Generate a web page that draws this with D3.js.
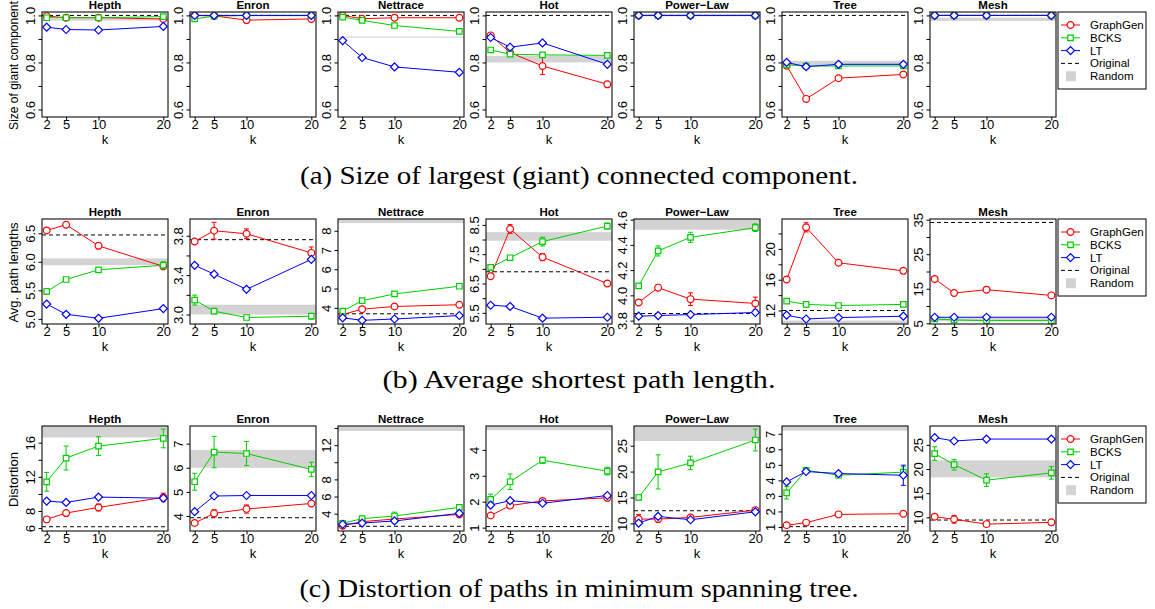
<!DOCTYPE html>
<html>
<head>
<meta charset="utf-8">
<script src="https://cdn.jsdelivr.net/npm/d3@7"></script>
<style>
  body { margin: 0; background: #fff; }
  text { font-family: 'Liberation Sans', Arial, Helvetica, sans-serif; }
</style>
</head>
<body>
<svg id="chart" width="1155" height="609"></svg>
<script>
const K = [2, 5, 10, 20]
const DATASETS = ['Hepth', 'Enron', 'Nettrace', 'Hot', 'Power\u2212Law', 'Tree', 'Mesh']
const SERIES = ['GraphGen', 'BCKS', 'LT']

// (a) size of giant component
const giantGraphGen = [[0.997, 0.99, 0.99, 0.985], [1.0, 0.998, 0.98, 0.985], [1.0, 0.986, 0.99, 0.99],
  [0.915, 0.842, 0.785, 0.707], [1, 1, 1, 1], [0.786, 0.645, 0.733, 0.749], [1, 1, 1, 1]]
const giantGraphGenErr = [[0.005, 0, 0, 0.005], [0, 0, 0.006, 0.01], [0, 0, 0, 0],
  [0.012, 0.006, 0.036, 0.01], [0, 0, 0, 0], [0.012, 0.01, 0, 0], [0, 0, 0, 0]]
const giantBCKS = [[0.99, 0.99, 0.99, 0.995], [0.985, 0.997, 1.0, 1.0], [0.993, 0.979, 0.957, 0.932],
  [0.853, 0.835, 0.832, 0.83], [1, 1, 1, 1], [0.79, 0.785, 0.785, 0.785], [1, 1, 1, 1]]
const giantLT = [[0.95, 0.94, 0.938, 0.953], [1, 1, 1, 1], [0.893, 0.821, 0.781, 0.758],
  [0.906, 0.865, 0.883, 0.792], [1, 1, 1, 1], [0.80, 0.782, 0.792, 0.792], [1, 1, 1, 1]]
const giantOriginal = [1, 1, 1, 1, 1, 1, 1]
const giantRandom = [[0.978, 0.985], [0.996, 1.0], [0.905, 0.91], [0.80, 0.828], [0.997, 1.0], [0.789, 0.807], [0.977, 0.99]]
const giantDomain = Array(7).fill([0.568, 1.0145])
const giantTicks = Array(7).fill([0.6, 0.7, 0.8, 0.9, 1.0])
const giantTickLabels = Array(7).fill([0.6, 0.8, 1.0])

// (b) average shortest path length
const pathGraphGen = [[6.55, 6.65, 6.28, 5.92], [3.742, 3.851, 3.82, 3.626], [3.65, 3.93, 4.07, 4.16],
  [6.75, 8.36, 7.4, 6.5], [3.944, 4.061, 3.97, 3.936], [16.02, 22.8, 18.2, 17.15], [17.85, 13.76, 14.74, 13.08]]
const pathGraphGenErr = [[0.03, 0.04, 0.04, 0.04], [0.02, 0.085, 0.05, 0.06], [0, 0, 0, 0],
  [0.05, 0.15, 0.12, 0.1], [0.005, 0.02, 0.05, 0.05], [0.3, 0.6, 0.2, 0.2], [0, 0, 0, 0]]
const pathBCKS = [[5.48, 5.69, 5.86, 5.94], [3.147, 3.034, 2.97, 2.983], [3.83, 4.37, 4.72, 5.12],
  [7.05, 7.38, 7.93, 8.46], [4.075, 4.352, 4.46, 4.536], [13.22, 12.79, 12.65, 12.79], [6.27, 5.97, 5.78, 5.78]]
const pathBCKSErr = [[0.05, 0.02, 0.02, 0.06], [0.05, 0.02, 0.01, 0.03], [0, 0, 0, 0],
  [0.1, 0.05, 0.15, 0.1], [0.015, 0.04, 0.04, 0.03], [0, 0, 0, 0], [0, 0, 0, 0]]
const pathLT = [[5.26, 5.08, 5.01, 5.18], [3.5, 3.41, 3.256, 3.56], [3.48, 3.35, 3.42, 3.6],
  [5.76, 5.72, 5.32, 5.35], [3.835, 3.84, 3.848, 3.864], [11.39, 10.9, 11.08, 11.26], [6.75, 6.75, 6.75, 6.75]]
const pathOriginal = [6.47, 3.76, 3.69, 6.9, 3.856, 12.0, 34.2]
const pathRandom = [[5.94, 6.06], [3.0, 3.10], [8.4, 8.8], [7.96, 8.25], [4.52, 4.62], [10.0, 10.7], [5.6, 6.5]]
const pathDomain = [[4.91, 6.75], [2.904, 3.97], [3.16, 8.61], [5.12, 8.70], [3.773, 4.605], [10.25, 23.88], [4.8, 35.2]]
const pathTicks = [[5.0, 5.5, 6.0, 6.5], [3.0, 3.2, 3.4, 3.6, 3.8], [4, 5, 6, 7, 8], [5.5, 6, 6.5, 7, 7.5, 8, 8.5],
  [3.8, 4.0, 4.2, 4.4, 4.6], [12, 14, 16, 18, 20, 22], [5, 10, 15, 20, 25, 30, 35]]
const pathTickLabels = [[5.0, 5.5, 6.0, 6.5], [3.0, 3.4, 3.8], [4, 5, 6, 7, 8], [5.5, 6.5, 7.5, 8.5],
  [3.8, 4.0, 4.2, 4.4, 4.6], [12, 16, 20], [5, 15, 25, 35]]

// (c) distortion of paths in MST
const distGraphGen = [[7.02, 7.76, 8.42, 9.59], [3.71, 4.11, 4.29, 4.52], [2.6, 3.07, 3.38, 3.92],
  [1.47, 1.85, 2.03, 2.15], [10.83, 10.83, 11.15, 12.56], [1.11, 1.28, 1.81, 1.85], [10.14, 9.6, 8.6, 8.97]]
const distGraphGenErr = [[0.3, 0.3, 0.4, 0.5], [0.1, 0.15, 0.17, 0.08], [0, 0, 0, 0],
  [0.03, 0.1, 0.05, 0.05], [0.9, 0.3, 0.3, 0.3], [0.03, 0.05, 0.05, 0.08], [0.4, 0.8, 0.3, 0.5]]
const distBCKS = [[11.42, 14.2, 15.6, 16.5], [5.42, 6.65, 6.59, 5.93], [2.88, 3.42, 3.73, 4.74],
  [2.09, 2.77, 3.6, 3.18], [15.0, 19.94, 21.67, 26.1], [3.2, 4.65, 4.33, 4.53], [23.2, 20.9, 17.7, 19.2]]
const distBCKSErr = [[1.1, 1.4, 1.1, 1.1], [0.35, 0.65, 0.5, 0.3], [0.1, 0.1, 0.45, 0.15],
  [0.2, 0.3, 0.12, 0.15], [0.5, 3.3, 1.3, 2.1], [0.4, 0.1, 0.1, 0.35], [1.4, 1.1, 1.3, 1.3]]
const distLT = [[9.16, 9.0, 9.63, 9.5], [4.18, 4.83, 4.85, 4.85], [2.76, 2.91, 3.15, 4.04],
  [1.87, 2.04, 1.94, 2.24], [10.06, 11.35, 10.7, 12.24], [3.9, 4.57, 4.44, 4.33], [26.5, 25.8, 26.2, 26.2]]
const distLTErr = [[0, 0, 0, 0], [0, 0, 0, 0], [0, 0, 0, 0], [0, 0, 0, 0], [0, 0, 0, 0], [0, 0, 0.1, 0.65], [0, 0, 0, 0]]
const distOriginal = [6.16, 3.93, 2.53, 1.04, 12.44, 1.02, 9.45]
const distRandom = [[16.6, 18.5], [6.0, 6.74], [13.65, 15], [4.76, 5.2], [25.9, 30], [7.2, 8], [18.26, 21.8]]
const distDomain = [[5.66, 17.95], [3.38, 7.73], [1.98, 14.23], [0.87, 4.92], [8.53, 28.8], [0.74, 7.5], [7.18, 28.9]]
const distTicks = [[6, 8, 10, 12, 14, 16], [4, 5, 6, 7], [4, 6, 8, 10, 12, 14], [1, 2, 3, 4],
  [10, 15, 20, 25], [1, 2, 3, 4, 5, 6, 7], [10, 15, 20, 25]]
const distTickLabels = [[6, 8, 12, 16], [4, 5, 6, 7], [4, 6, 8, 12], [1, 2, 3, 4],
  [10, 15, 20, 25], [1, 2, 3, 4, 5, 6, 7], [10, 15, 20, 25]]

const rows = [
  { ylabel: 'Size of giant component', ylabelSize: 12, caption: '(a) Size of largest (giant) connected component.',
    series: [giantGraphGen, giantBCKS, giantLT], errs: [giantGraphGenErr, null, null],
    original: giantOriginal, random: giantRandom, domain: giantDomain, ticks: giantTicks, labels: giantTickLabels },
  { ylabel: 'Avg. path lengths', ylabelSize: 13, caption: '(b) Average shortest path length.',
    series: [pathGraphGen, pathBCKS, pathLT], errs: [pathGraphGenErr, pathBCKSErr, null],
    original: pathOriginal, random: pathRandom, domain: pathDomain, ticks: pathTicks, labels: pathTickLabels },
  { ylabel: 'Distortion', ylabelSize: 13, caption: '(c) Distortion of paths in minimum spanning tree.',
    series: [distGraphGen, distBCKS, distLT], errs: [distGraphGenErr, distBCKSErr, distLTErr],
    original: distOriginal, random: distRandom, domain: distDomain, ticks: distTicks, labels: distTickLabels }
]

const STYLE = [
  { color: '#FF0000', type: d3.symbolCircle, size: 36, rot: 0 },
  { color: '#00CD00', type: d3.symbolSquare, size: 30, rot: 0 },
  { color: '#0000FF', type: d3.symbolSquare, size: 32, rot: 45 }
]
const RANDOM_FILL = '#D3D3D3'

const W = 1155, H = 609
const PW = 126, PH = 105
const X0 = 42, DX = 148
const ROW_TOP = [12, 219, 426]
const CAPTION_Y = [184, 388, 597]
const CAPTION_W = [558, 393, 559]

const svg = d3.select('#chart')
svg.append('rect').attr('width', W).attr('height', H).attr('fill', '#fff')
const defs = svg.append('defs')

const x = d3.scaleLinear().domain([2 - 0.72, 20 + 0.72]).range([0, PW])

function marker(sel, st) {
  sel.attr('d', d3.symbol().type(st.type).size(st.size)())
    .attr('fill', '#fff')
    .attr('stroke', st.color)
    .attr('stroke-width', 1.2)
}

rows.forEach((row, r) => {
  const top = ROW_TOP[r]

  DATASETS.forEach((name, i) => {
    const left = X0 + i * DX
    const y = d3.scaleLinear().domain(row.domain[i]).range([PH, 0])
    const g = svg.append('g').attr('transform', `translate(${left},${top})`)
    const clipId = `clip-${r}-${i}`
    defs.append('clipPath').attr('id', clipId)
      .append('rect').attr('width', PW).attr('height', PH)
    const plot = g.append('g').attr('clip-path', `url(#${clipId})`)

    // random band
    const [lo, hi] = row.random[i]
    plot.append('rect')
      .attr('x', 0).attr('width', PW)
      .attr('y', y(hi)).attr('height', Math.max(1, y(lo) - y(hi)))
      .attr('fill', RANDOM_FILL)

    // original
    plot.append('line')
      .attr('x1', 0).attr('x2', PW)
      .attr('y1', y(row.original[i])).attr('y2', y(row.original[i]))
      .attr('stroke', '#000').attr('stroke-width', 1).attr('stroke-dasharray', '4,3')

    row.series.forEach((ser, s) => {
      const st = STYLE[s]
      const vals = ser[i]
      const errs = row.errs[s] ? row.errs[s][i] : [0, 0, 0, 0]
      const pts = K.map((k, j) => ({ k, v: vals[j], e: errs[j] }))
      const sg = plot.append('g')

      // error bars
      pts.filter(d => d.e > 0).forEach(d => {
        const cx = x(d.k)
        const eb = sg.append('g').attr('stroke', st.color).attr('stroke-width', 1)
        eb.append('line').attr('x1', cx).attr('x2', cx).attr('y1', y(d.v - d.e)).attr('y2', y(d.v + d.e))
        eb.append('line').attr('x1', cx - 2.5).attr('x2', cx + 2.5).attr('y1', y(d.v - d.e)).attr('y2', y(d.v - d.e))
        eb.append('line').attr('x1', cx - 2.5).attr('x2', cx + 2.5).attr('y1', y(d.v + d.e)).attr('y2', y(d.v + d.e))
      })

      sg.append('path').datum(pts)
        .attr('fill', 'none').attr('stroke', st.color).attr('stroke-width', 1)
        .attr('d', d3.line().x(d => x(d.k)).y(d => y(d.v)))

      sg.selectAll('path.mk').data(pts).join('path')
        .attr('class', 'mk')
        .attr('transform', d => `translate(${x(d.k)},${y(d.v)}) rotate(${st.rot})`)
        .call(marker, st)
    })

    // box
    g.append('rect').attr('width', PW).attr('height', PH)
      .attr('fill', 'none').attr('stroke', '#222').attr('stroke-width', 1.2)

    // x axis
    const xa = g.append('g').attr('transform', `translate(0,${PH})`)
      .call(d3.axisBottom(x).tickValues(K).tickSize(3.5).tickSizeOuter(0))
    xa.select('.domain').remove()
    xa.selectAll('line').attr('stroke', '#000')
    xa.selectAll('text').attr('y', 3).attr('dy', '0.71em')
      .attr('font-size', '13px').attr('fill', '#000').attr('font-family', "'Liberation Sans', Arial, sans-serif")

    // y axis
    const ticks = row.ticks[i]
    const labels = row.labels[i]
    const dec = ticks.some(t => !Number.isInteger(t)) ? 1 : 0
    const fmt = d3.format(`.${dec}f`)
    const ya = g.append('g')
      .call(d3.axisLeft(y).tickValues(ticks).tickSize(3.5).tickSizeOuter(0)
        .tickFormat(t => labels.some(l => Math.abs(l - t) < 1e-9) ? fmt(t) : ''))
    ya.select('.domain').remove()
    ya.selectAll('line').attr('stroke', '#000')
    ya.selectAll('text')
      .attr('transform', 'rotate(-90)')
      .attr('x', 0).attr('y', -7).attr('dy', 0)
      .attr('text-anchor', 'middle')
      .attr('font-size', '13px').attr('fill', '#000').attr('font-family', "'Liberation Sans', Arial, sans-serif")

    // title
    g.append('text').attr('x', PW / 2).attr('y', -3)
      .attr('text-anchor', 'middle').attr('font-size', '11.5px').attr('font-weight', 'bold')
      .text(name)

    // k
    g.append('text').attr('x', PW / 2).attr('y', PH + 27)
      .attr('text-anchor', 'middle').attr('font-size', '13px')
      .text('k')

    if (i === 0) {
      svg.append('text')
        .attr('transform', `translate(17.5,${top + PH / 2 + 1}) rotate(-90)`)
        .attr('text-anchor', 'middle').attr('font-size', `${row.ylabelSize}px`)
        .text(row.ylabel)
    }
  })

  // legend
  const lg = svg.append('g').attr('transform', `translate(1058,${top})`)
  lg.append('rect').attr('width', 88).attr('height', 77)
    .attr('fill', '#fff').attr('stroke', '#000').attr('stroke-width', 1)
  const entries = SERIES.concat(['Original', 'Random'])
  entries.forEach((lab, j) => {
    const ey = 13 + j * 12.8
    if (j < 3) {
      lg.append('line').attr('x1', 3).attr('x2', 22).attr('y1', ey).attr('y2', ey)
        .attr('stroke', STYLE[j].color).attr('stroke-width', 1)
      lg.append('path').attr('transform', `translate(12.5,${ey}) rotate(${STYLE[j].rot})`)
        .call(marker, STYLE[j])
    } else if (j === 3) {
      lg.append('line').attr('x1', 3).attr('x2', 22).attr('y1', ey).attr('y2', ey)
        .attr('stroke', '#000').attr('stroke-width', 1).attr('stroke-dasharray', '4,3')
    } else {
      lg.append('rect').attr('x', 8).attr('y', ey - 5).attr('width', 10).attr('height', 10)
        .attr('fill', RANDOM_FILL)
    }
    lg.append('text').attr('x', 32).attr('y', ey).attr('dy', '0.35em')
      .attr('font-size', '11.5px').text(lab)
  })

  // caption
  svg.append('text')
    .attr('x', 579).attr('y', CAPTION_Y[r])
    .attr('text-anchor', 'middle')
    .style('font-family', "'Liberation Serif', 'Times New Roman', serif")
    .attr('font-size', '24.5px')
    .attr('textLength', CAPTION_W[r]).attr('lengthAdjust', 'spacingAndGlyphs')
    .text(row.caption)
})
</script>
</body>
</html>
